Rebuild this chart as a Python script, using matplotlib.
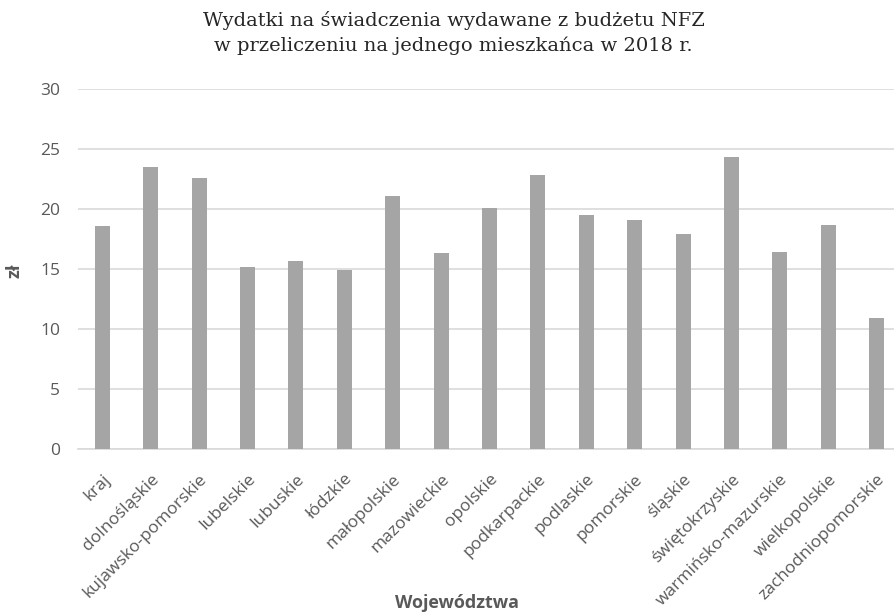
import matplotlib.pyplot as plt
from matplotlib.ticker import MultipleLocator

# dane
wojewodztwa = ['kraj', 'dolnośląskie', 'kujawsko-pomorskie', 'lubelskie', 'lubuskie',
               'łódzkie', 'małopolskie', 'mazowieckie', 'opolskie', 'podkarpackie',
               'podlaskie', 'pomorskie', 'śląskie', 'świętokrzyskie',
               'warmińsko-mazurskie', 'wielkopolskie', 'zachodniopomorskie']
wydatki = [18.6, 23.5, 22.6, 15.2, 15.7, 14.9, 21.1, 16.3, 20.1, 22.8,
           19.5, 19.1, 17.9, 24.3, 16.4, 18.7, 10.9]

szary = '#595959'
plt.rcParams['font.family'] = ['Open Sans', 'DejaVu Sans']

fig = plt.figure(figsize=(8.95, 6.14), dpi=100)
ax = fig.add_axes([0.0872, 0.2687, 0.9128, 0.5863])

x = range(len(wojewodztwa))
ax.bar(x, wydatki, width=0.31, color='#A5A5A5', zorder=3)

ax.set_ylim(0, 30)
ax.set_xlim(-0.5, 16.38)
ax.yaxis.set_major_locator(MultipleLocator(5))
ax.grid(axis='y', color='#D9D9D9', linewidth=1.2, zorder=0)
for s in ['top', 'right', 'left']:
    ax.spines[s].set_visible(False)
ax.spines['bottom'].set_color('#D9D9D9')
ax.spines['bottom'].set_linewidth(1.2)

ax.tick_params(axis='y', length=0, pad=13, labelsize=12.5, labelcolor=szary)
ax.tick_params(axis='x', length=0, pad=16, labelsize=12.5, labelcolor=szary)
ax.set_xticks(list(x))
ax.set_xticklabels(wojewodztwa, rotation=45, ha='right', rotation_mode='anchor')

fig.text(15 / 895, 0.56, 'zł', rotation=90, ha='center', va='center',
         fontsize=13, fontweight='bold', color=szary)
fig.text(0.5106, 0.009, 'Województwa', ha='center', va='baseline',
         fontsize=13, fontweight='bold', color=szary)

fig.text(0.507, 0.982, 'Wydatki na świadczenia wydawane z budżetu NFZ\nw przeliczeniu na jednego mieszkańca w 2018 r.',
         ha='center', va='top', fontsize=14, color='#262626',
         family=['DejaVu Serif'], linespacing=1.45)

fig.savefig('out.png', dpi=100)
